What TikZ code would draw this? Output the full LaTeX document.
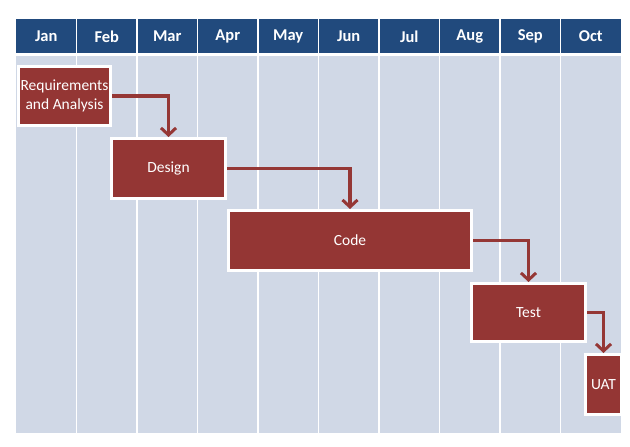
\documentclass[tikz,border=0pt]{standalone}
\usepackage{fontspec}
\setmainfont{Carlito}
\usetikzlibrary{arrows.meta,shadows}
\definecolor{hdr}{HTML}{214A7D}
\definecolor{bodyc}{HTML}{D0D8E6}
\definecolor{boxred}{HTML}{943634}
\definecolor{arrc}{HTML}{953735}
\tikzset{
  month/.style={font=\fontsize{16.5}{18}\selectfont\bfseries, text=white},
  phase/.style={draw=white, line width=3pt, fill=boxred, text=white,
    font=\fontsize{15.5}{18.5}\selectfont, align=center, inner sep=0pt,
    drop shadow={shadow xshift=1pt, shadow yshift=-1.2pt, opacity=0.35}},
  link/.style={draw=arrc, line width=3.2pt, -{Straight Barb[length=7pt,width=15pt,line width=3pt]}}
}
\begin{document}
\begin{tikzpicture}[x=1pt,y=-1pt]
\useasboundingbox (0,0) rectangle (630,447);
\fill[white] (0,0) rectangle (630,447);
% header and body
\fill[hdr] (16,19) rectangle (621,53);
\fill[bodyc] (16,55.5) rectangle (621,433);
\foreach \k in {1,...,9} {
  \draw[white, line width=1.5pt] ({16+60.5*\k},19) -- ({16+60.5*\k},433);
}
\draw[white, line width=2pt] (16,54.3) -- (621,54.3);
% month labels
\foreach \m [count=\i from 0] in {Jan,Feb,Mar,Apr,May,Jun,Jul,Aug,Sep,Oct} {
  \node[month] (m\i) at ({16+60.5*\i+30.25},36.5) {\m};
}
% phases
\node[phase, minimum width=92pt, minimum height=59pt] (req) at (64.5,96) {Requirements\\and Analysis};
\node[phase, minimum width=114pt, minimum height=60pt] (des) at (168.5,168.5) {Design};
\node[phase, minimum width=243pt, minimum height=60pt] (code) at (350,240.5) {Code};
\node[phase, minimum width=114pt, minimum height=58pt] (test) at (528.5,312.5) {Test};
\node[phase, minimum width=36pt, minimum height=60pt] (uat) at (603.5,384.5) {UAT};
% links
\draw[link] (req.east) -| (des.north);
\draw[link] (des.east) -| (code.north);
\draw[link] (code.east) -| (test.north);
\draw[link] (test.east) -| (uat.north);
\end{tikzpicture}
\end{document}
